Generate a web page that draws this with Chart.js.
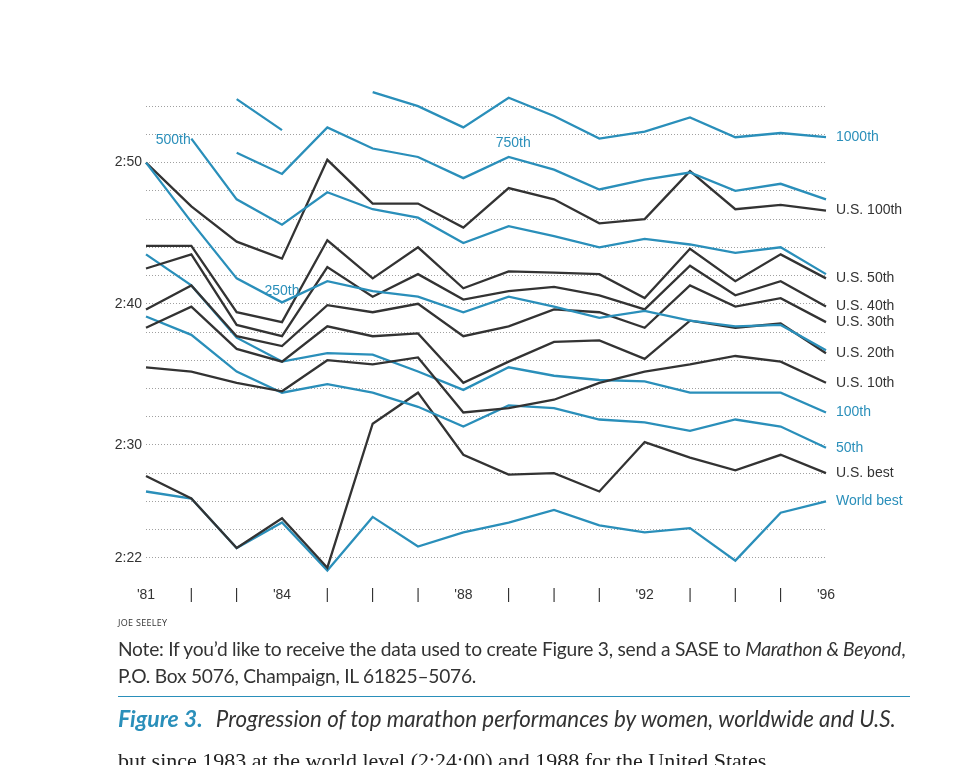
<!DOCTYPE html>
<html>
<head>
<meta charset="utf-8">
<script src="https://cdn.jsdelivr.net/npm/chart.js@4"></script>
<style>
  body { margin: 0; background: #fff; width: 958px; height: 765px; overflow: hidden; position: relative; font-family: "Liberation Sans", Arial, sans-serif; }
  #wrap { position: absolute; left: 0; top: 0; width: 958px; height: 765px; }
  .credit { position: absolute; left: 118px; top: 616px; font-size: 9px; color: #333; font-family: "Open Sans", sans-serif; letter-spacing: 0.3px; }
  .note { position: absolute; left: 118px; top: 635px; font-size: 19.2px; line-height: 27px; color: #333; font-family: "Lato", sans-serif; letter-spacing: -0.25px; }
  .rule { position: absolute; left: 118px; top: 696px; width: 792px; height: 0; border-top: 1.5px solid #2a8fba; }
  .caption { position: absolute; left: 118px; top: 704px; font-size: 22.3px; color: #333; font-style: italic; font-family: "Lato", sans-serif; }
  .caption b { color: #2a8fba; font-size: 23px; margin-right: 8px; }
  .body { position: absolute; left: 118px; top: 748px; font-size: 22px; color: #222; font-family: "Liberation Serif", serif; white-space: nowrap; }
</style>
</head>
<body>
<div id="wrap"><canvas id="chart" width="958" height="765"></canvas></div>
<div class="credit">JOE SEELEY</div>
<div class="note">Note: If you’d like to receive the data used to create Figure 3, send a SASE to <i>Marathon &amp; Beyond</i>,<br>P.O. Box 5076, Champaign, IL 61825–5076.</div>
<div class="rule"></div>
<div class="caption"><b>Figure 3.</b> Progression of top marathon performances by women, worldwide and U.S.</div>
<div class="body">but since 1983 at the world level (2:24:00) and 1988 for the United States</div>
<script>
// times in minutes (2:50 = 170)
const years = ["'81", "|", "|", "'84", "|", "|", "|", "'88", "|", "|", "|", "'92", "|", "|", "|", "'96"];
const yTicks = [142, 144, 146, 148, 150, 152, 154, 156, 158, 160, 162, 164, 166, 168, 170, 172, 174];
const yLabels = { 142: "2:22", 150: "2:30", 160: "2:40", 170: "2:50" };

const w1000 = [null, null, 174.5, 172.3, null, 175.0, 174.0, 172.5, 174.6, 173.3, 171.7, 172.2, 173.2, 171.8, 172.1, 171.8];
const w750 = [null, null, 170.7, 169.2, 172.5, 171.0, 170.4, 168.9, 170.4, 169.5, 168.1, 168.8, 169.3, 168.0, 168.5, 167.4];
const w500 = [null, 171.7, 167.4, 165.6, 167.9, 166.7, 166.1, 164.3, 165.5, 164.8, 164.0, 164.6, 164.2, 163.6, 164.0, 162.1];
const w250 = [170.0, 165.8, 161.8, 160.1, 161.6, 160.9, 160.5, 159.4, 160.5, 159.8, 159.0, 159.5, 158.8, 158.4, 158.5, 156.7];
const w100 = [163.5, 161.3, 157.6, 155.9, 156.5, 156.4, 155.2, 153.9, 155.5, 154.9, 154.6, 154.5, 153.7, 153.7, 153.7, 152.3];
const w50 = [159.1, 157.8, 155.2, 153.7, 154.3, 153.7, 152.7, 151.3, 152.8, 152.6, 151.8, 151.6, 151.0, 151.8, 151.3, 149.8];
const wBest = [146.7, 146.2, 142.7, 144.5, 141.1, 144.9, 142.8, 143.8, 144.5, 145.4, 144.3, 143.8, 144.1, 141.8, 145.2, 146.0];

const us100 = [170.0, 166.9, 164.4, 163.2, 170.2, 167.1, 167.1, 165.4, 168.2, 167.4, 165.7, 166.0, 169.4, 166.7, 167.0, 166.6];
const us50 = [164.1, 164.1, 159.4, 158.7, 164.5, 161.8, 164.0, 161.1, 162.3, 162.2, 162.1, 160.4, 163.9, 161.6, 163.5, 161.8];
const us40 = [162.5, 163.5, 158.5, 157.7, 162.6, 160.5, 162.1, 160.3, 160.9, 161.2, 160.6, 159.6, 162.7, 160.6, 161.6, 159.8];
const us30 = [159.6, 161.3, 157.7, 157.0, 159.9, 159.4, 160.0, 157.7, 158.4, 159.6, 159.4, 158.3, 161.3, 159.8, 160.4, 158.7];
const us20 = [158.3, 159.8, 156.8, 155.9, 158.4, 157.7, 157.9, 154.4, 155.9, 157.3, 157.4, 156.1, 158.8, 158.3, 158.6, 156.5];
const us10 = [155.5, 155.2, 154.4, 153.8, 156.0, 155.7, 156.2, 152.3, 152.6, 153.2, 154.4, 155.2, 155.7, 156.3, 155.9, 154.4];
const usBest = [147.8, 146.2, 142.7, 144.8, 141.3, 151.5, 153.7, 149.3, 147.9, 148.0, 146.7, 150.2, 149.1, 148.2, 149.3, 148.0];

const BLUE = "#2a8fba";
const DARK = "#333333";

// [label at line end, data, colour]
const series = [
  ["1000th", w1000, BLUE], ["", w750, BLUE], ["", w500, BLUE], ["", w250, BLUE],
  ["U.S. 100th", us100, DARK], ["U.S. 50th", us50, DARK], ["U.S. 40th", us40, DARK],
  ["U.S. 30th", us30, DARK], ["U.S. 20th", us20, DARK], ["U.S. 10th", us10, DARK],
  ["100th", w100, BLUE], ["50th", w50, BLUE], ["U.S. best", usBest, DARK], ["World best", wBest, BLUE]
];
// inline labels: text, x index, value
const inlineLabels = [["500th", 0.6, 171.6], ["750th", 8.1, 171.4], ["250th", 3.0, 160.9]];

const lineLabels = {
  id: "lineLabels",
  afterDatasetsDraw(chart) {
    const ctx = chart.ctx;
    const x = chart.scales.x, y = chart.scales.y;
    ctx.save();
    ctx.font = "14px 'Liberation Sans', Arial, sans-serif";
    ctx.textBaseline = "middle";
    chart.data.datasets.forEach(ds => {
      if (!ds.endLabel) return;
      const last = ds.data.length - 1;
      ctx.fillStyle = ds.borderColor;
      ctx.fillText(ds.endLabel, x.getPixelForValue(last) + 10, y.getPixelForValue(ds.data[last]));
    });
    ctx.fillStyle = BLUE;
    ctx.textAlign = "center";
    inlineLabels.forEach(l => ctx.fillText(l[0], x.getPixelForValue(l[1]), y.getPixelForValue(l[2])));
    ctx.restore();
  }
};

new Chart(document.getElementById("chart"), {
  type: "line",
  data: {
    labels: years,
    datasets: series.map(s => ({
      endLabel: s[0],
      data: s[1],
      borderColor: s[2],
      borderWidth: 2.3,
      pointRadius: 0,
      tension: 0,
      spanGaps: false
    }))
  },
  options: {
    responsive: false,
    animation: false,
    devicePixelRatio: 1,
    layout: { padding: { left: 106, right: 132, top: 85, bottom: 156 } },
    plugins: { legend: { display: false }, tooltip: { enabled: false } },
    scales: {
      x: {
        offset: false,
        grid: { display: false },
        border: { display: false },
        afterFit: s => { s.height = 30; },
        ticks: { color: "#333", font: { size: 14, family: "'Liberation Sans', Arial" }, padding: 0, maxRotation: 0, autoSkip: false }
      },
      y: {
        min: 140.5,
        max: 175.5,
        afterBuildTicks: s => { s.ticks = yTicks.map(v => ({ value: v })); },
        afterFit: s => { s.width = 40; },
        border: { display: false, dash: [1, 2] },
        grid: { color: "#888", lineWidth: 0.8, drawTicks: false },
        ticks: {
          color: "#333", padding: 4,
          font: { size: 14, family: "'Liberation Sans', Arial" },
          callback: v => yLabels[v] || ""
        }
      }
    }
  },
  plugins: [lineLabels]
});
</script>
</body>
</html>
